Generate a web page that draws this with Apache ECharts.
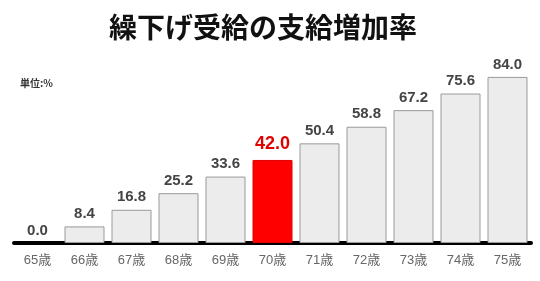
<!DOCTYPE html>
<html><head><meta charset="utf-8">
<script src="https://cdn.jsdelivr.net/npm/echarts@6/dist/echarts.min.js"></script>
<style>html,body{margin:0;padding:0;background:#fff}#c{width:540px;height:281px}</style>
</head><body><div id="c"></div>
<script>
const titleText = '繰下げ受給の支給増加率';
const unitText = '単位:%';
const categories = ['65歳','66歳','67歳','68歳','69歳','70歳','71歳','72歳','73歳','74歳','75歳'];
const values = [0.0, 8.4, 16.8, 25.2, 33.6, 42.0, 50.4, 58.8, 67.2, 75.6, 84.0];
const highlightCategory = '70歳';

const chart = echarts.init(document.getElementById('c'));
const data = values.map((v, i) => {
  const hi = categories[i] === highlightCategory;
  return {
    value: v,
    itemStyle: hi ? { color: '#ff0000', borderColor: '#e00000', borderWidth: 1 }
              : (v === 0 ? { borderWidth: 0, color: 'rgba(0,0,0,0)' } : undefined),
    label: hi ? { color: '#e00000', fontSize: 18, distance: 7 } : undefined
  };
});
chart.setOption({
  animation: false,
  title: {
    text: titleText, left: 258, top: 8, textAlign: 'center',
    textStyle: { fontFamily: 'Noto Sans CJK JP', fontSize: 28, fontWeight: 'bold', color: '#111' }
  },
  graphic: [{
    type: 'text', left: 20, top: 78,
    style: { text: unitText, font: 'bold 10px "Noto Sans CJK JP"', fill: '#333' }
  }],
  grid: { left: 14, right: 9, top: 69, bottom: 38 },
  xAxis: {
    type: 'category', data: categories,
    axisLine: { lineStyle: { color: '#000', width: 4 } },
    axisTick: { show: false },
    axisLabel: { color: '#666', fontSize: 13, margin: 11, fontFamily: 'Liberation Sans, Noto Sans CJK JP' }
  },
  yAxis: { type: 'value', min: 0, max: 88, show: false, splitLine: { show: false } },
  series: [{
    type: 'bar', data: data, barWidth: 40,
    itemStyle: { color: '#ececec', borderColor: '#9a9a9a', borderWidth: 1 },
    label: {
      show: true, position: 'top', distance: 5,
      formatter: p => p.value.toFixed(1),
      color: '#444', fontSize: 15, fontWeight: 'bold', fontFamily: 'Liberation Sans, Arial'
    }
  }]
});
</script></body></html>
